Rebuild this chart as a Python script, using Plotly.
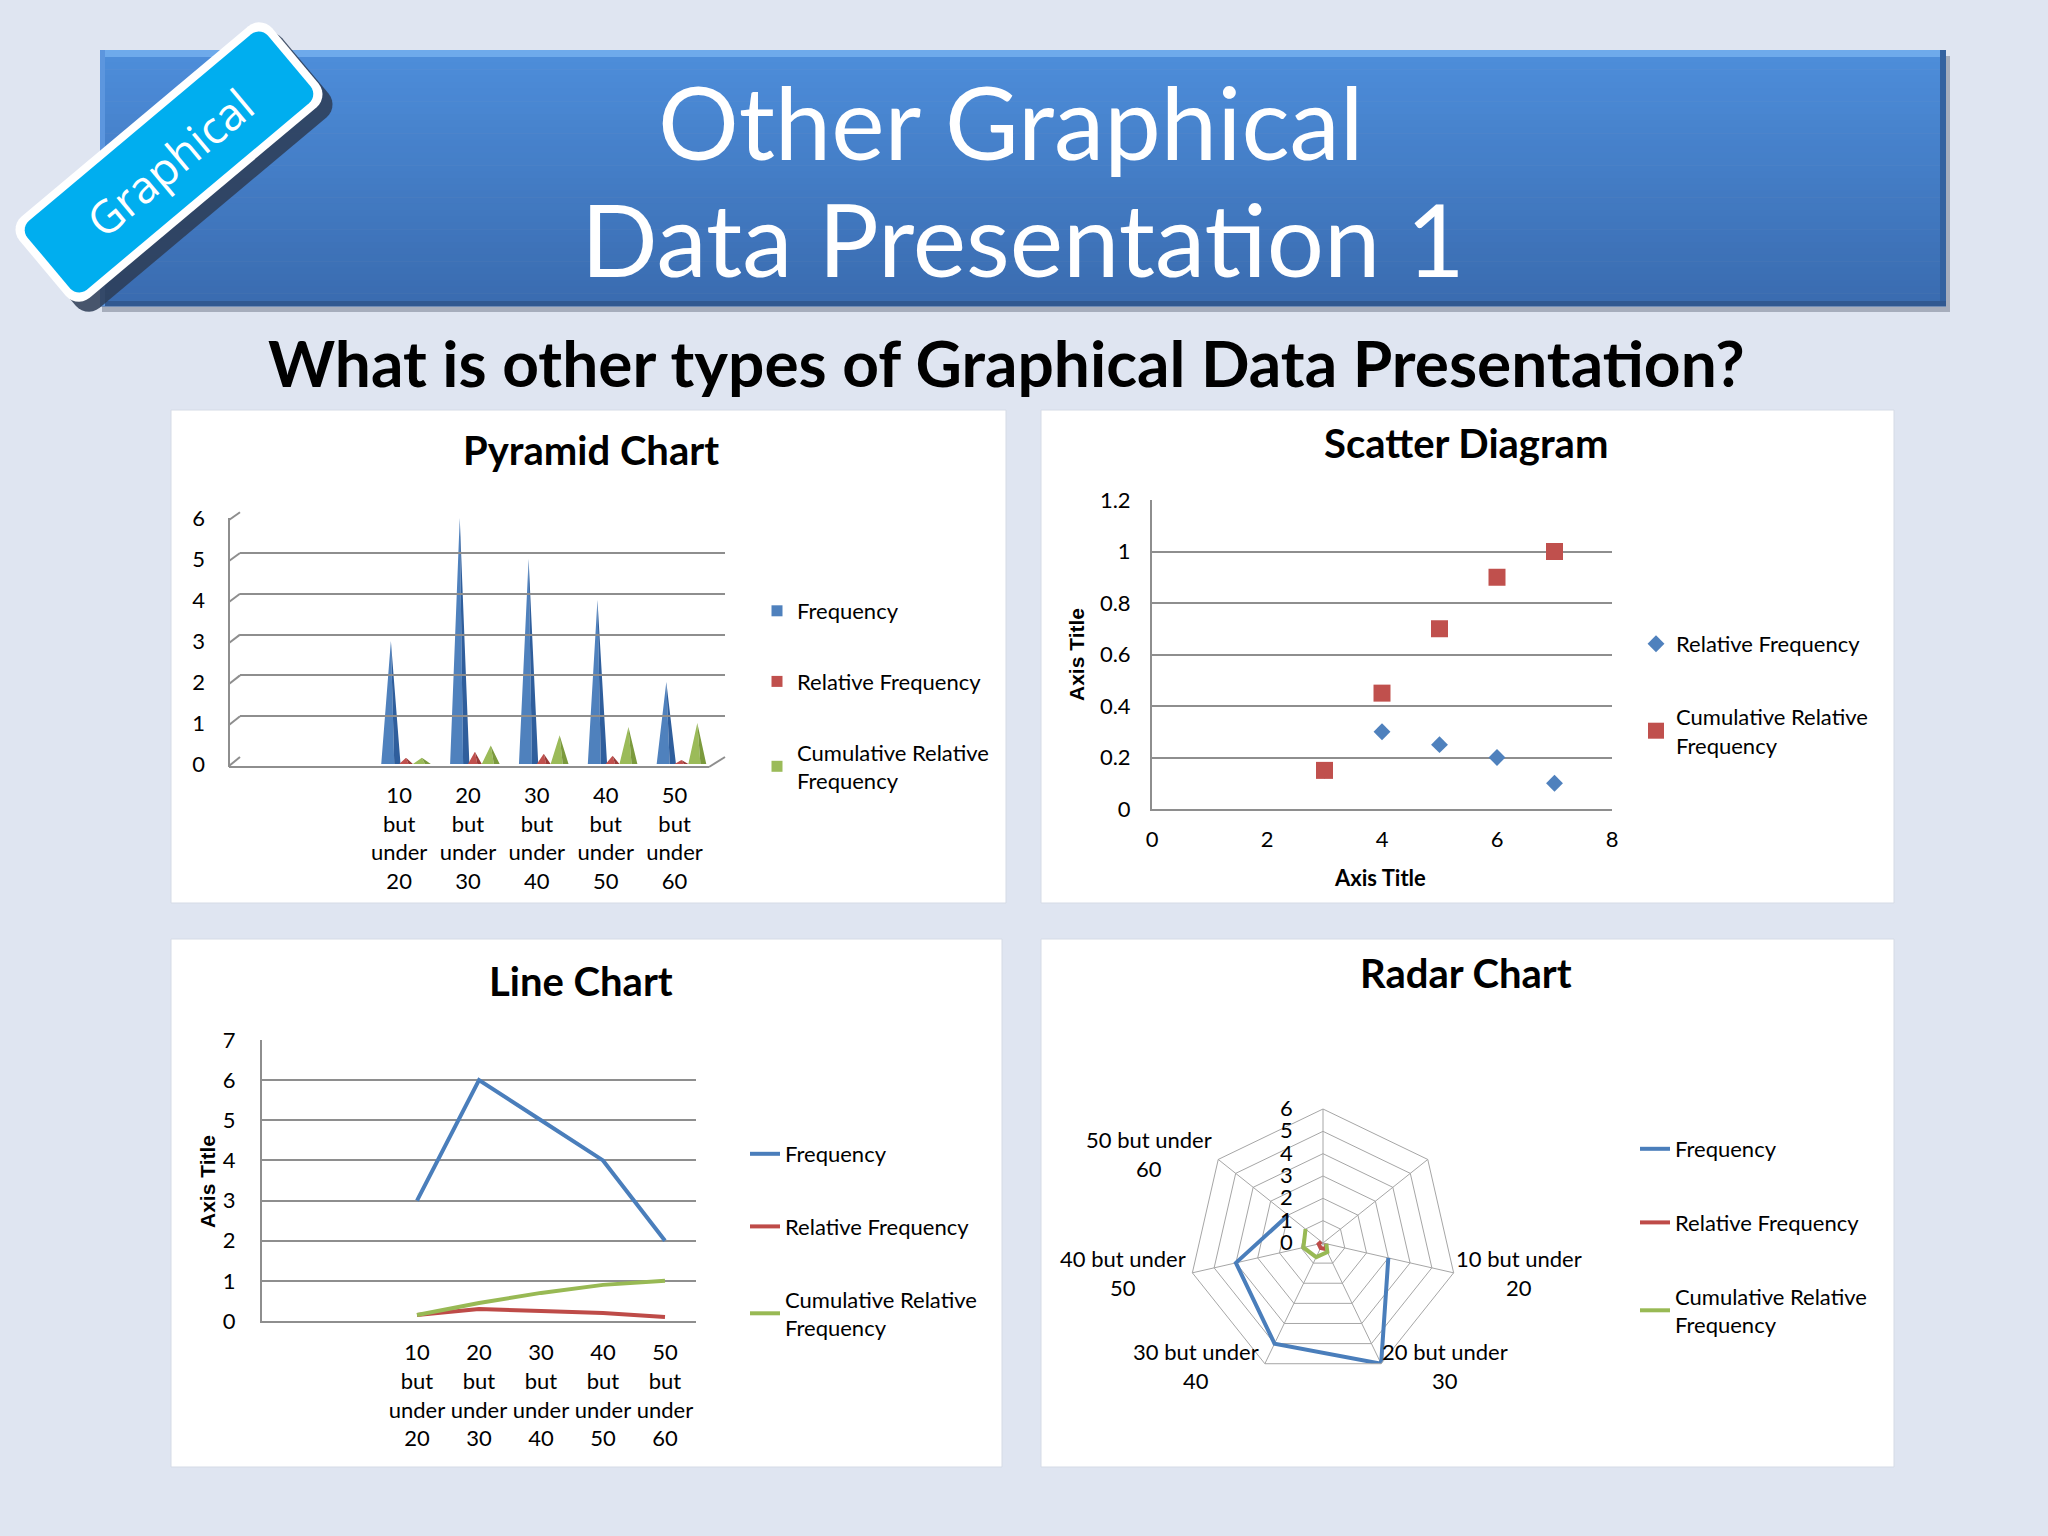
import numpy as np
import plotly.graph_objects as go

W, H = 2048, 1536


def px(x):
    return x / W


def py(y):
    return 1 - y / H


# ---------------- data ----------------
categories = ["", "", "10 but under 20", "20 but under 30", "30 but under 40",
              "40 but under 50", "50 but under 60"]
frequency = [None, None, 3, 6, 5, 4, 2]
relative_frequency = [None, None, 0.15, 0.30, 0.25, 0.20, 0.10]
cumulative_relative_frequency = [None, None, 0.15, 0.45, 0.70, 0.90, 1.00]
scatter_x = [3, 4, 5, 6, 7]
scatter_relative = [0.15, 0.30, 0.25, 0.20, 0.10]
scatter_cumulative = [0.15, 0.45, 0.70, 0.90, 1.00]
series_names = ["Frequency", "Relative Frequency", "Cumulative Relative<br>Frequency"]

BLUE, RED, GREEN = "#4f81bd", "#c0504d", "#9bbb59"
BLUE_D, RED_D, GREEN_D = "#2f5e9c", "#9a3a37", "#7b9a3d"
FONT = "Lato"
GRID = "#8e8e8e"
TXT = "#000000"

positions = list(range(1, len(categories) + 1))
stack_labels = [c.replace(" ", "<br>") for c in categories]
radar_theta = [c if c else "blank" + str(i) for i, c in enumerate(categories)]
tick_pos = [p for p, c in zip(positions, categories) if c]
tick_txt = [t for t, c in zip(stack_labels, categories) if c]

fig = go.Figure()

# ---------------- pyramid chart ----------------
def pyramid_faces(values, offset, half):
    lx, ly, rx, ry = [], [], [], []
    for p, v in zip(positions, values):
        if v is None:
            continue
        c = p + offset
        split = c + 0.35 * half
        lx += [c - half, c, split, c - half, None]
        ly += [0, v, 0, 0, None]
        rx += [split, c, c + half, split, None]
        ry += [0, v, 0, 0, None]
    return lx, ly, rx, ry


pyr_specs = [(frequency, -0.12, 0.14, BLUE, BLUE_D),
             (relative_frequency, 0.10, 0.10, RED, RED_D),
             (cumulative_relative_frequency, 0.33, 0.13, GREEN, GREEN_D)]
for vals, off, half, c1, c2 in pyr_specs:
    lx, ly, rx, ry = pyramid_faces(vals, off, half)
    fig.add_trace(go.Scatter(x=lx, y=ly, fill="toself", fillcolor=c1, mode="lines",
                             line=dict(width=0, color=c1), showlegend=False,
                             hoverinfo="skip", xaxis="x", yaxis="y"))
    fig.add_trace(go.Scatter(x=rx, y=ry, fill="toself", fillcolor=c2, mode="lines",
                             line=dict(width=0, color=c2), showlegend=False,
                             hoverinfo="skip", xaxis="x", yaxis="y"))
for i, (name, col) in enumerate(zip(series_names, [BLUE, RED, GREEN])):
    fig.add_trace(go.Scatter(x=[None], y=[None], mode="markers", name=name,
                             marker=dict(symbol="square", size=11, color=col),
                             legend="legend", legendgroup=f"p{i}", xaxis="x", yaxis="y"))
# back wall grid axis
fig.add_trace(go.Scatter(x=[None], y=[None], xaxis="x5", yaxis="y5",
                         showlegend=False, hoverinfo="skip"))

# ---------------- scatter diagram ----------------
fig.add_trace(go.Scatter(x=scatter_x, y=scatter_relative, mode="markers",
                         name="Relative Frequency",
                         marker=dict(symbol="diamond", size=13, color=BLUE),
                         xaxis="x2", yaxis="y2", legend="legend2", legendgroup="s0"))
fig.add_trace(go.Scatter(x=scatter_x, y=scatter_cumulative, mode="markers",
                         name="Cumulative Relative<br>Frequency",
                         marker=dict(symbol="square", size=17, color=RED),
                         xaxis="x2", yaxis="y2", legend="legend2", legendgroup="s1"))

# ---------------- line chart ----------------
for i, (vals, name, col) in enumerate(zip(
        [frequency, relative_frequency, cumulative_relative_frequency],
        series_names, ["#4a7ebb", "#be4b48", "#98b954"])):
    fig.add_trace(go.Scatter(x=positions, y=vals, mode="lines", name=name,
                             line=dict(color=col, width=4),
                             xaxis="x3", yaxis="y3", legend="legend3", legendgroup=f"l{i}"))

# ---------------- radar chart ----------------
for i, (vals, name, col) in enumerate(zip(
        [frequency, relative_frequency, cumulative_relative_frequency],
        series_names, ["#4a7ebb", "#be4b48", "#98b954"])):
    fig.add_trace(go.Scatterpolar(r=vals, theta=radar_theta, mode="lines", name=name,
                                  line=dict(color=col, width=4), connectgaps=False,
                                  subplot="polar", legend="legend4", legendgroup=f"r{i}"))

# ---------------- decorations ----------------
shapes = []
# banner shadow
shapes.append(dict(type="rect", xref="paper", yref="paper", x0=px(102), x1=px(1950),
                   y0=py(312), y1=py(56), fillcolor="rgba(60,70,90,0.35)",
                   line=dict(width=0), layer="below"))
# banner gradient
top_c = np.array([78, 142, 219])
bot_c = np.array([58, 108, 176])
n_strips = 40
b_top, b_bot, b_l, b_r = 50, 306, 100, 1946
for k in range(n_strips):
    t = k / (n_strips - 1)
    c = (top_c * (1 - t) + bot_c * t).astype(int)
    y0 = b_top + (b_bot - b_top) * k / n_strips
    y1 = b_top + (b_bot - b_top) * (k + 1) / n_strips + 0.6
    shapes.append(dict(type="rect", xref="paper", yref="paper", x0=px(b_l), x1=px(b_r),
                       y0=py(y1), y1=py(y0), fillcolor=f"rgb({c[0]},{c[1]},{c[2]})",
                       line=dict(width=0), layer="below"))
# bevel highlights
shapes.append(dict(type="rect", xref="paper", yref="paper", x0=px(b_l), x1=px(b_r),
                   y0=py(b_top + 7), y1=py(b_top), fillcolor="rgb(110,170,235)",
                   line=dict(width=0), layer="below"))
shapes.append(dict(type="rect", xref="paper", yref="paper", x0=px(b_r - 6), x1=px(b_r),
                   y0=py(b_bot), y1=py(b_top), fillcolor="rgb(52,98,160)",
                   line=dict(width=0), layer="below"))
shapes.append(dict(type="rect", xref="paper", yref="paper", x0=px(b_l), x1=px(b_r),
                   y0=py(b_bot), y1=py(b_bot - 5), fillcolor="rgb(48,88,145)",
                   line=dict(width=0), layer="below"))
shapes.append(dict(type="rect", xref="paper", yref="paper", x0=px(b_l), x1=px(b_l + 5),
                   y0=py(b_bot), y1=py(b_top), fillcolor="rgb(92,150,222)",
                   line=dict(width=0), layer="below"))


def rot_rect_path(cx, cy, L, Wd, ang_deg, r, n=8):
    a = np.radians(ang_deg)
    u = np.array([np.cos(a), -np.sin(a)])
    v = np.array([np.sin(a), np.cos(a)])
    hl, hw = L / 2 - r, Wd / 2 - r
    pts = []
    for (s0, t0, a0, a1) in [(hl, -hw, -90, 0), (hl, hw, 0, 90),
                             (-hl, hw, 90, 180), (-hl, -hw, 180, 270)]:
        for t in np.linspace(np.radians(a0), np.radians(a1), n):
            p = np.array([cx, cy]) + (s0 + r * np.cos(t)) * u + (t0 + r * np.sin(t)) * v
            pts.append(p)
    return "M " + " L ".join(f"{px(p[0]):.5f},{py(p[1]):.5f}" for p in pts) + " Z"


bcx, bcy, bang = 169, 162, 40
shapes.append(dict(type="path", xref="paper", yref="paper",
                   path=rot_rect_path(bcx + 10, bcy + 10, 330, 106, bang, 17),
                   fillcolor="rgba(45,60,85,0.85)", line=dict(width=0), layer="below"))
shapes.append(dict(type="path", xref="paper", yref="paper",
                   path=rot_rect_path(bcx, bcy, 330, 106, bang, 17),
                   fillcolor="#ffffff", line=dict(width=0), layer="below"))
shapes.append(dict(type="path", xref="paper", yref="paper",
                   path=rot_rect_path(bcx, bcy, 314, 90, bang, 12),
                   fillcolor="#00aeef", line=dict(width=0), layer="below"))

# white panels
for (x0, y0, x1, y1) in [(171, 410, 1006, 903), (1041, 410, 1894, 903),
                         (171, 939, 1002, 1467), (1041, 939, 1894, 1467)]:
    shapes.append(dict(type="rect", xref="paper", yref="paper", x0=px(x0), x1=px(x1),
                       y0=py(y1), y1=py(y0), fillcolor="#ffffff",
                       line=dict(width=1, color="#d5dbe6"), layer="below"))

# pyramid 3D frame (left wall + floor)
fy0, fscale = 764, 41.0
by0, bscale = 757, 40.8
shapes.append(dict(type="line", xref="paper", yref="paper", x0=px(229), x1=px(229),
                   y0=py(767), y1=py(518), line=dict(color=GRID, width=2)))
for k in range(7):
    shapes.append(dict(type="line", xref="paper", yref="paper",
                       x0=px(229), x1=px(240), y0=py(fy0 - k * fscale + 2),
                       y1=py(by0 - k * bscale), line=dict(color=GRID, width=2)))
shapes.append(dict(type="line", xref="paper", yref="paper", x0=px(229), x1=px(709),
                   y0=py(767), y1=py(767), line=dict(color=GRID, width=2)))
shapes.append(dict(type="line", xref="paper", yref="paper", x0=px(709), x1=px(725),
                   y0=py(767), y1=py(757), line=dict(color=GRID, width=2)))

# ---------------- annotations ----------------
ann = []


def note(text, x, y, size, family=FONT, color=TXT, angle=0):
    ann.append(dict(text=text, x=px(x), y=py(y), xref="paper", yref="paper",
                    showarrow=False, textangle=angle,
                    font=dict(family=family, size=size, color=color),
                    xanchor="center", yanchor="middle"))


note("Other Graphical", 1011, 121, 101, color="white")
note("Data Presentation 1", 1023, 238, 101, color="white")
note("Graphical", bcx, bcy, 45, family="Open Sans", color="white", angle=-bang)
note("<b>What is other types of Graphical Data Presentation?</b>", 1006, 362, 64)
for t, x, y in [("Pyramid Chart", 591, 450), ("Scatter Diagram", 1466, 443),
                ("Line Chart", 581, 981), ("Radar Chart", 1466, 973)]:
    note(f"<b>{t}</b>", x, y, 40)
note("<b>Axis Title</b>", 1076, 655, 21, family="Liberation Sans", angle=-90)
note("<b>Axis Title</b>", 207, 1182, 21, family="Liberation Sans", angle=-90)
note("<b>Axis Title</b>", 1380, 877, 22)

# radar category labels
radar_label_pos = {"10 but under 20": (1519, 1273), "20 but under 30": (1445, 1366),
                   "30 but under 40": (1196, 1366), "40 but under 50": (1123, 1273),
                   "50 but under 60": (1149, 1154)}
for c in categories:
    if c:
        head, tail = c.rsplit(" ", 1)
        xx, yy = radar_label_pos[c]
        note(f"{head}<br>{tail}", xx, yy, 22)

tick_font = dict(family=FONT, size=22, color=TXT)
leg_font = dict(family=FONT, size=22, color=TXT)

fig.update_layout(
    width=W, height=H, autosize=False,
    margin=dict(l=0, r=0, t=0, b=0, pad=0, autoexpand=False),
    paper_bgcolor="#dfe5f1", plot_bgcolor="rgba(0,0,0,0)",
    shapes=shapes, annotations=ann,
    showlegend=True,
    # pyramid front axes
    xaxis=dict(domain=[px(227), px(709)], range=[0.5, 7.5], anchor="y",
               tickmode="array", tickvals=tick_pos, ticktext=tick_txt, automargin=False,
               showgrid=False, zeroline=False, showline=False, ticks="",
               tickfont=tick_font, ticklabelstandoff=16),
    yaxis=dict(domain=[py(764), py(518)], range=[0, 6], anchor="x", dtick=1, automargin=False,
               showgrid=False, zeroline=False, showline=False, ticks="",
               tickfont=tick_font, ticklabelstandoff=21),
    # pyramid back wall grid
    xaxis5=dict(domain=[px(240), px(725)], range=[0, 1], anchor="y5", visible=False),
    yaxis5=dict(domain=[py(757), py(512)], range=[0, 6], anchor="x5", dtick=1,
                showgrid=True, gridcolor=GRID, gridwidth=2, zeroline=False,
                showticklabels=False, ticks="", showline=False, automargin=False),
    # scatter
    xaxis2=dict(domain=[px(1152), px(1612)], range=[0, 8], dtick=2, anchor="y2",
                showgrid=False, zeroline=False, showline=True, linecolor=GRID, linewidth=2,
                ticks="", tickfont=tick_font, ticklabelstandoff=10, automargin=False),
    yaxis2=dict(domain=[py(809), py(500)], range=[0, 1.2], dtick=0.2, anchor="x2",
                showgrid=True, gridcolor=GRID, gridwidth=2, zeroline=False,
                showline=True, linecolor=GRID, linewidth=2, automargin=False,
                ticks="", tickfont=tick_font, ticklabelstandoff=15),
    # line chart
    xaxis3=dict(domain=[px(262), px(696)], range=[0.5, 7.5], anchor="y3",
                tickmode="array", tickvals=tick_pos, ticktext=tick_txt, automargin=False,
                showgrid=False, zeroline=False, showline=True, linecolor=GRID, linewidth=2,
                ticks="", tickfont=tick_font, ticklabelstandoff=11),
    yaxis3=dict(domain=[py(1321), py(1040)], range=[0, 7], dtick=1, anchor="x3",
                showgrid=True, gridcolor=GRID, gridwidth=2, zeroline=False,
                showline=True, linecolor=GRID, linewidth=2, automargin=False,
                ticks="", tickfont=tick_font, ticklabelstandoff=20),
    polar=dict(
        domain=dict(x=[px(1189), px(1457)], y=[py(1377), py(1109)]),
        bgcolor="rgba(0,0,0,0)", gridshape="linear",
        angularaxis=dict(direction="clockwise", rotation=90, gridcolor="#a6a6a6",
                         linecolor="#a6a6a6", showline=True, ticks="",
                         showticklabels=False),
        radialaxis=dict(range=[0, 6], dtick=1, angle=90, tickangle=90,
                        side="counterclockwise", gridcolor="#a6a6a6", showline=False,
                        ticks="outside", ticklen=22, tickcolor="rgba(0,0,0,0)",
                        tickfont=dict(family=FONT, size=22, color=TXT)),
    ),
    legend=dict(x=px(757), y=py(590), xanchor="left", yanchor="top",
                bgcolor="rgba(0,0,0,0)", font=leg_font, tracegroupgap=39),
    legend2=dict(x=px(1636), y=py(623), xanchor="left", yanchor="top",
                 bgcolor="rgba(0,0,0,0)", font=leg_font, tracegroupgap=41),
    legend3=dict(x=px(745), y=py(1133), xanchor="left", yanchor="top",
                 bgcolor="rgba(0,0,0,0)", font=leg_font, tracegroupgap=41),
    legend4=dict(x=px(1635), y=py(1128), xanchor="left", yanchor="top",
                 bgcolor="rgba(0,0,0,0)", font=leg_font, tracegroupgap=42),
)

fig.write_html("out.html", include_plotlyjs=True, config={"displayModeBar": False},
               post_script="document.body.style.margin='0px';")
